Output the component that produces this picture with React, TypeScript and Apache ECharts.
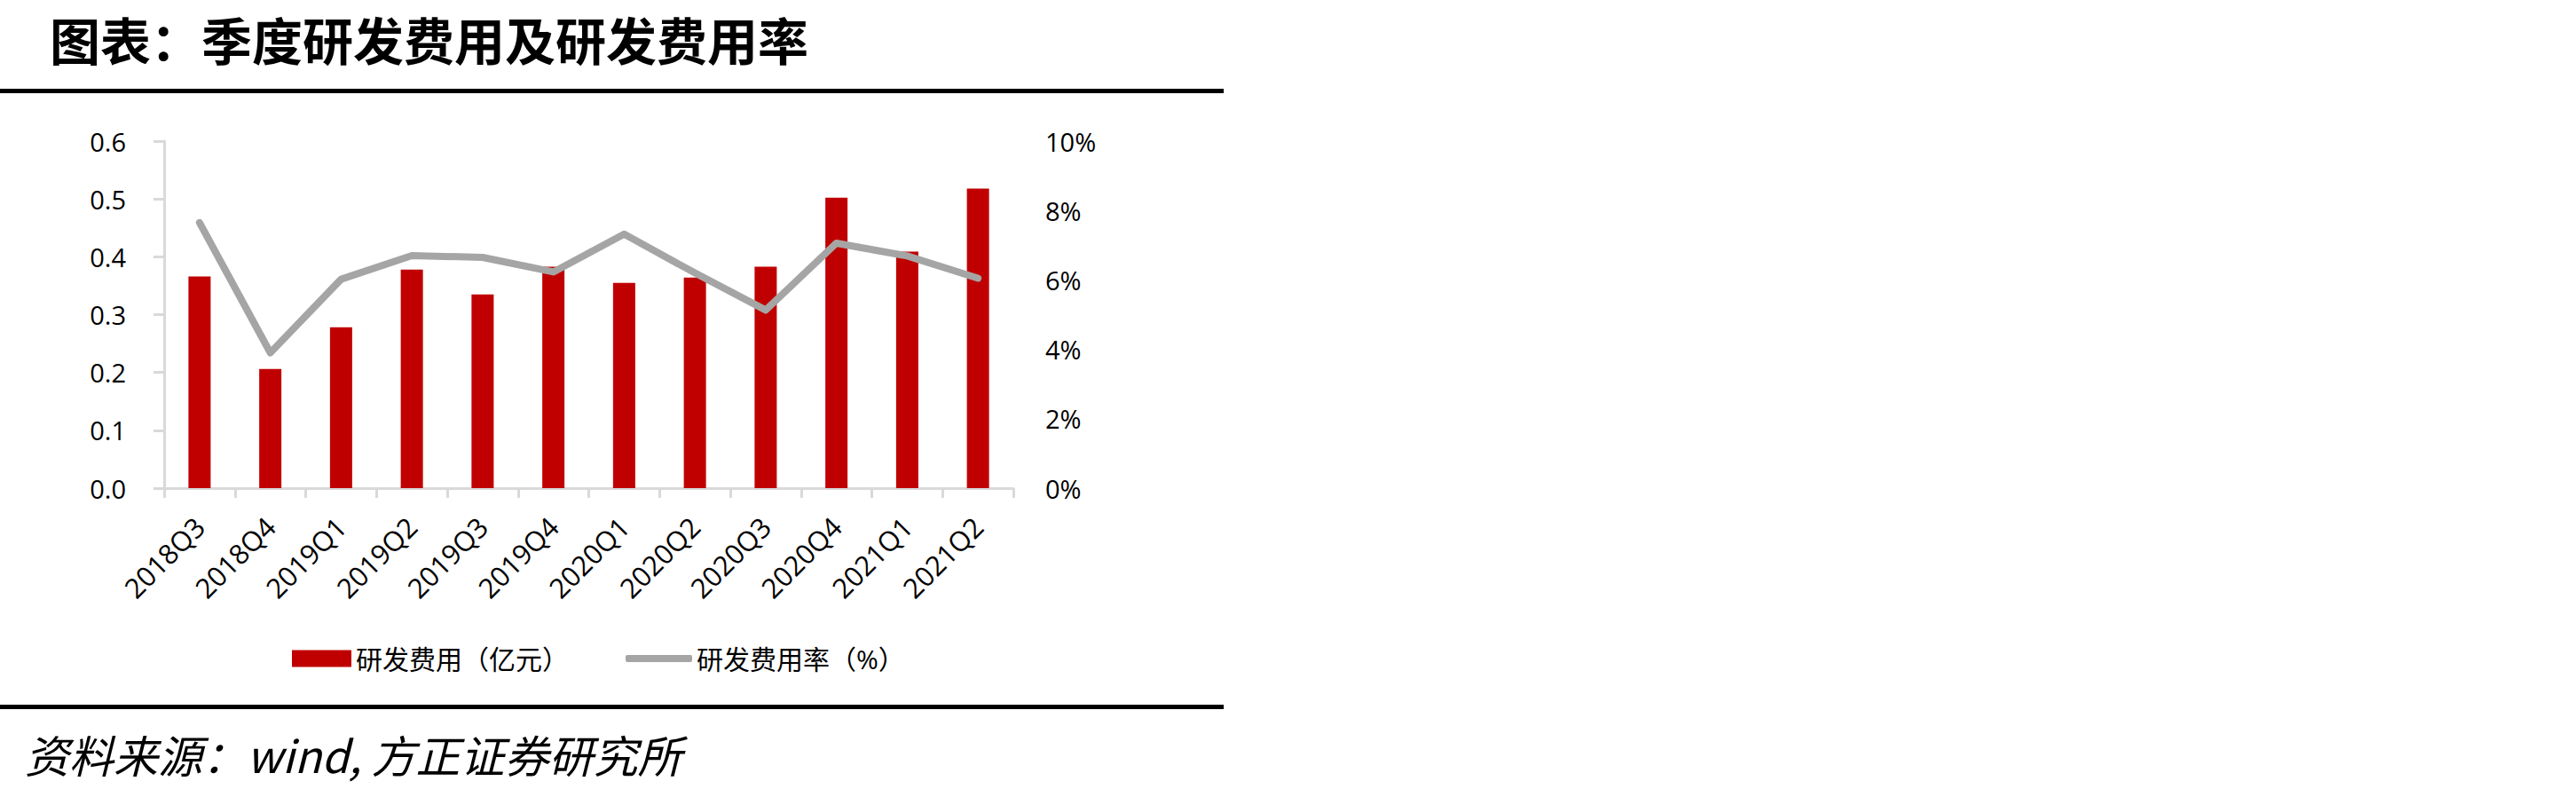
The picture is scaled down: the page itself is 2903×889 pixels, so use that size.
import React, { useEffect, useRef } from "react";
import * as echarts from "echarts";

const categories = ["2018Q3", "2018Q4", "2019Q1", "2019Q2", "2019Q3", "2019Q4", "2020Q1", "2020Q2", "2020Q3", "2020Q4", "2021Q1", "2021Q2"];
const rdExpense = [0.366, 0.206, 0.278, 0.378, 0.335, 0.383, 0.355, 0.364, 0.383, 0.502, 0.409, 0.518];
const rdRatio = [7.65, 3.9, 6.02, 6.7, 6.65, 6.23, 7.32, 6.2, 5.13, 7.06, 6.69, 6.05];
const seriesNames = ["研发费用（亿元）", "研发费用率（%）"];
const titleText = "图表：季度研发费用及研发费用率";
const sourceText = "资料来源：wind, 方正证券研究所";

const LABEL_FONT = "'Open Sans', 'Noto Sans CJK SC', sans-serif";

export default function App() {
  const ref = useRef<HTMLDivElement>(null);
  useEffect(() => {
    document.body.style.margin = "0";
    const chart = echarts.init(ref.current!, null, { renderer: "svg" });
    const legendText = { fontSize: 30, color: "#000", fontFamily: LABEL_FONT };
    chart.setOption({
      animation: false,
      backgroundColor: "#fff",
      textStyle: { fontFamily: LABEL_FONT },
      grid: { left: 185, top: 159, width: 957, height: 391, containLabel: false },
      legend: [
        {
          left: 324,
          top: 722,
          itemWidth: 67,
          itemHeight: 19,
          textStyle: legendText,
          data: [{ name: seriesNames[0], icon: "rect" }],
        },
        {
          left: 700,
          top: 722,
          itemWidth: 75,
          itemHeight: 8,
          textStyle: legendText,
          data: [{ name: seriesNames[1], icon: "roundRect", itemStyle: { color: "#a5a5a5" } }],
        },
      ],
      xAxis: {
        type: "category",
        data: categories,
        boundaryGap: true,
        axisLine: { lineStyle: { color: "#d9d9d9", width: 3 } },
        axisTick: { show: true, length: 11, lineStyle: { color: "#d9d9d9", width: 3 } },
        axisLabel: { rotate: 45, fontSize: 31, color: "#000", margin: 38, interval: 0 },
      },
      yAxis: [
        {
          type: "value",
          min: 0,
          max: 0.6,
          interval: 0.1,
          splitLine: { show: false },
          axisLine: { show: true, lineStyle: { color: "#d9d9d9", width: 3 } },
          axisTick: { show: true, length: 12, lineStyle: { color: "#d9d9d9", width: 3 } },
          axisLabel: { fontSize: 29, color: "#000", margin: 43, formatter: (v: number) => v.toFixed(1) },
        },
        {
          type: "value",
          min: 0,
          max: 10,
          interval: 2,
          position: "right",
          splitLine: { show: false },
          axisLine: { show: false },
          axisTick: { show: false },
          axisLabel: { fontSize: 29, color: "#000", margin: 36, formatter: "{value}%" },
        },
      ],
      series: [
        {
          name: seriesNames[0],
          type: "bar",
          data: rdExpense,
          barWidth: 25,
          itemStyle: { color: "#C00000" },
          z: 2,
        },
        {
          name: seriesNames[1],
          type: "line",
          yAxisIndex: 1,
          data: rdRatio,
          symbol: "none",
          lineStyle: { color: "#a5a5a5", width: 8, cap: "round", join: "round" },
          itemStyle: { color: "#a5a5a5" },
          z: 3,
        },
      ],
      graphic: [
        {
          type: "text",
          left: 56,
          top: 14,
          style: {
            text: titleText,
            fontSize: 57,
            fontWeight: "bold",
            fontFamily: "'Noto Sans CJK SC', sans-serif",
            fill: "#000",
          },
        },
        {
          type: "rect",
          shape: { x: 0, y: 100, width: 1379, height: 5 },
          style: { fill: "#000" },
        },
        {
          type: "rect",
          shape: { x: 0, y: 794, width: 1379, height: 5 },
          style: { fill: "#000" },
        },
        {
          type: "text",
          left: 28,
          top: 824,
          style: {
            text: sourceText,
            fontSize: 50,
            fontStyle: "italic",
            fontFamily: "'Noto Sans CJK SC', sans-serif",
            fill: "#000",
          },
        },
      ],
    });
    return () => chart.dispose();
  }, []);
  return <div ref={ref} style={{ position: "absolute", left: 0, top: 0, width: 2903, height: 889 }} />;
}
